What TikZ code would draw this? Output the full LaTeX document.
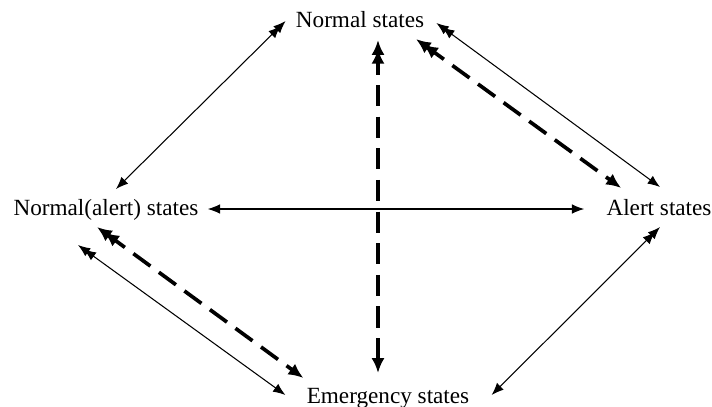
\documentclass[tikz,border=0pt]{standalone}
\usepackage{fontspec}
\setmainfont{Liberation Serif}
\usetikzlibrary{arrows.meta}

\tikzset{
  thinhead/.tip={Latex[length=7pt,width=5.5pt]},
  thindbl/.tip={Latex[length=7pt,width=5.5pt,sep={-3pt}]Latex[length=7pt,width=5.5pt]},
  boldhead/.tip={Latex[length=8.5pt,width=7.5pt]},
  bolddbl/.tip={Latex[length=8.5pt,width=7.5pt,sep={-3.5pt}]Latex[length=8.5pt,width=7.5pt]}
}

\begin{document}
\begin{tikzpicture}[x=0.02cm,y=-0.02cm,
      state/.style={inner sep=0pt,anchor=base,font=\fontsize{13.2}{16}\selectfont},
      link/.style={line width=0.6pt,arrows={thindbl-thinhead}},
      twoway/.style={line width=0.6pt,arrows={thinhead-thinhead}},
      trans/.style={line width=2.1pt,dash pattern=on 12pt off 6pt,arrows={bolddbl-boldhead}}]
      \useasboundingbox (0,0) rectangle (712,406);
      \node[state] (ns) at (360,27) {Normal states};
      \node[state] (nas) at (106,215) {Normal(alert) states};
      \node[state] (as) at (659,215) {Alert states};
      \node[state] (es) at (388,403) {Emergency states};
      % thin two-way links
      \draw[link] ([shift={(-10,-6)}]ns.base west) -- ([shift={(10,-26)}]nas.base);
      \draw[link] ([shift={(12,-4)}]ns.base east) -- ([shift={(1,-28)}]as.base);
      \draw[link] ([shift={(-28,30)}]nas.base) -- ([shift={(-21,-8)}]es.base west);
      \draw[link] ([shift={(1,12)}]as.base) -- ([shift={(22,-8)}]es.base east);
      \draw[twoway] ([shift={(9,-6)}]nas.base east) -- ([shift={(-22,-6)}]as.base west);
      % dashed transitions
      \draw[trans] ([shift={(18,13)}]ns.base) -- ([shift={(-10,-30)}]es.base);
      \draw[trans] ([shift={(-8.5,12)}]ns.base east) -- ([shift={(15,-27)}]as.base west);
      \draw[trans] ([shift={(-9,12)}]nas.base) -- ([shift={(-3,-25)}]es.base west);
    \end{tikzpicture}
\end{document}
